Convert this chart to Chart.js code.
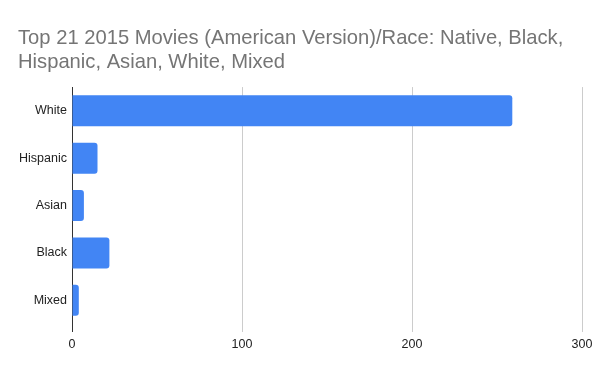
<!DOCTYPE html>
<html>
<head>
<meta charset="utf-8">
<script src="https://cdn.jsdelivr.net/npm/chart.js@4"></script>
<style>
	html, body { margin: 0; padding: 0; background: #fff; }
	#wrap { width: 600px; height: 371px; }
</style>
</head>
<body>
<div id="wrap"><canvas id="raceCanvas"></canvas></div>
<script>
/* 데이터 */
const titleLines = ['Top 21 2015 Movies (American Version)/Race: Native, Black,', 'Hispanic, Asian, White, Mixed']
const categories = ['White', 'Hispanic', 'Asian', 'Black', 'Mixed']
const counts = [259, 15, 7, 22, 4]
const xTicks = [0, 100, 200, 300]

const fontFamily = "'Liberation Sans', Arial, sans-serif"

/* 차트 생성 */
const raceChart = new Chart(document.getElementById('raceCanvas'), {
	type : 'bar'
	,data : {
		labels : categories
		,datasets : [{
			data : counts
			,backgroundColor : '#4285f4'
			,borderRadius : 3
			,borderSkipped : 'start'
			,categoryPercentage : 1
			,barPercentage : 0.655
		}]
	}
	,options : {
		indexAxis : 'y'
		,responsive : true
		,maintainAspectRatio : false
		,animation : false
		,layout : { padding : { left : 18, right : 18, top : 0, bottom : 0 } }
		,plugins : {
			legend : { display : false }
			,tooltip : { enabled : false }
			,title : {
				display : true
				,text : titleLines
				,align : 'start'
				,color : '#757575'
				,font : { family : fontFamily, size : 20.2, weight : 'normal', lineHeight : 1.19 }
				,padding : { top : 26, bottom : 13 }
			}
		}
		,scales : {
			x : {
				min : xTicks[0]
				,max : xTicks[xTicks.length - 1]
				,afterBuildTicks : function(scale){
					scale.ticks = xTicks.map(v => ({ value : v }))
				}
				,afterFit : function(scale){ scale.height = 47 }
				,border : { display : false }
				,grid : {
					color : ctx => ctx.tick && ctx.tick.value === 0 ? '#333333' : '#cccccc'
					,tickLength : 8
					,drawTicks : true
				}
				,ticks : {
					color : '#222222'
					,padding : 5
					,font : { family : fontFamily, size : 12.5 }
				}
			}
			,y : {
				afterFit : function(scale){ scale.width = 54 }
				,grid : { display : false, drawTicks : false }
				,border : { display : true, color : '#333333', width : 1 }
				,ticks : {
					color : '#222222'
					,padding : 5
					,font : { family : fontFamily, size : 12.5 }
				}
			}
		}
	}
}) // chart-end
</script>
</body>
</html>
